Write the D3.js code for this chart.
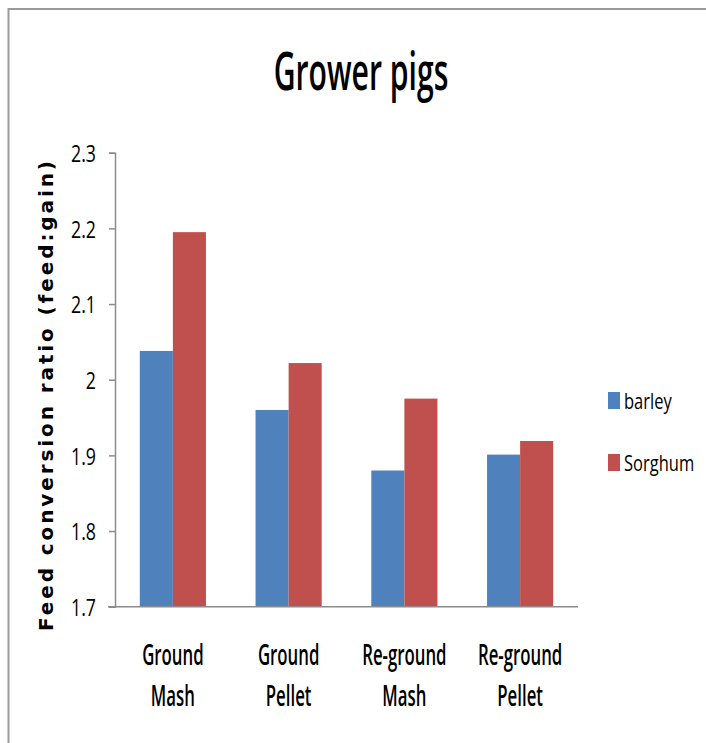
<!DOCTYPE html>
<html>
<head>
<meta charset="utf-8">
<script src="https://cdn.jsdelivr.net/npm/d3@7"></script>
<style>
    body { margin: 0; background: #fff; }
    text { font-family: "Open Sans", sans-serif; fill: #000; }
</style>
</head>
<body>
<script>
// Chart data
var categories = [["Ground", "Mash"], ["Ground", "Pellet"], ["Re-ground", "Mash"], ["Re-ground", "Pellet"]];
var seriesNames = ["barley", "Sorghum"];
var barley = [2.038, 1.960, 1.880, 1.901];
var sorghum = [2.195, 2.022, 1.975, 1.919];
var yTicks = [1.7, 1.8, 1.9, 2.0, 2.1, 2.2, 2.3];

window.onload = function(){

    var w = 706, h = 743;
    var colors = ["#4F81BD", "#C0504D"];

    var svg = d3.select("body")
        .append("svg")
        .attr("width", w)
        .attr("height", h);

    // Outer frame (only top and left edges show)
    svg.append("line")
        .attr("x1", 8).attr("y1", 9).attr("x2", w).attr("y2", 9)
        .style("stroke", "#9a9a9a").style("stroke-width", 2);
    svg.append("line")
        .attr("x1", 8.5).attr("y1", 8).attr("x2", 8.5).attr("y2", h)
        .style("stroke", "#9a9a9a").style("stroke-width", 2);

    // Scales
    var keys = categories.map(function(d){ return d.join(" "); });
    var x0 = d3.scaleBand()
        .domain(keys)
        .range([115, 578])
        .paddingInner(1.5 / 3.5)
        .paddingOuter(0.75 / 3.5);
    var x1 = d3.scaleBand()
        .domain(seriesNames)
        .range([0, x0.bandwidth()]);
    var y = d3.scaleLinear()
        .domain([1.7, 2.3])
        .range([606.7, 152.7]);

    // Bars
    var rows = keys.map(function(k, i){
        return { key: k, values: [barley[i], sorghum[i]] };
    });
    var groups = svg.selectAll(".group")
        .data(rows)
        .enter()
        .append("g")
        .attr("class", "group")
        .attr("transform", function(d){ return "translate(" + x0(d.key) + ",0)"; });
    groups.selectAll("rect")
        .data(function(d){ return d.values; })
        .enter()
        .append("rect")
        .attr("x", function(d, i){ return x1(seriesNames[i]); })
        .attr("y", function(d){ return y(d); })
        .attr("width", x1.bandwidth())
        .attr("height", function(d){ return y(1.7) - y(d); })
        .style("fill", function(d, i){ return colors[i]; });

    // Y axis
    var sx = 0.74;
    var yAxis = d3.axisLeft(y)
        .tickValues(yTicks)
        .tickSize(6)
        .tickPadding(19 / sx - 6)
        .tickFormat(function(d){ return String(+d.toFixed(1)); });
    var axis = svg.append("g")
        .attr("transform", "translate(115,0)")
        .call(yAxis);
    axis.select(".domain").style("stroke", "#8c8c8c").style("stroke-width", 1.5);
    axis.selectAll(".tick line").style("stroke", "#8c8c8c").style("stroke-width", 1.5);
    axis.selectAll(".tick text")
        .attr("transform", "scale(" + sx + ",1)")
        .attr("dy", "0.36em")
        .style("font-family", "Open Sans")
        .style("font-size", "24px")
        .style("fill", "#000");

    // X axis line
    svg.append("line")
        .attr("x1", 108).attr("x2", 578)
        .attr("y1", y(1.7)).attr("y2", y(1.7))
        .style("stroke", "#8c8c8c").style("stroke-width", 1.5);

    // Category labels (two lines each)
    var catLabels = svg.selectAll(".catLabel")
        .data(categories)
        .enter()
        .append("g")
        .attr("class", "catLabel")
        .attr("transform", function(d, i){
            return "translate(" + (x0(keys[i]) + x0.bandwidth() / 2) + ",0) scale(0.6,1)";
        });
    catLabels.selectAll("text")
        .data(function(d){ return d; })
        .enter()
        .append("text")
        .attr("text-anchor", "middle")
        .attr("y", function(d, i){ return i === 0 ? 665 : 706; })
        .style("font-size", "28px")
        .style("font-weight", 600)
        .text(function(d){ return d; });

    // Title
    svg.append("text")
        .attr("transform", "translate(361,90) scale(0.58,1)")
        .attr("text-anchor", "middle")
        .style("font-size", "52px")
        .style("font-weight", 600)
        .text("Grower pigs");

    // Y axis title
    svg.append("text")
        .attr("transform", "translate(53,396) rotate(-90)")
        .attr("text-anchor", "middle")
        .attr("textLength", 470)
        .attr("lengthAdjust", "spacing")
        .style("font-family", "DejaVu Sans")
        .style("font-weight", "bold")
        .style("font-size", "20px")
        .text("Feed conversion ratio (feed:gain)");

    // Legend
    var legend = svg.selectAll(".legend")
        .data(seriesNames)
        .enter()
        .append("g")
        .attr("class", "legend")
        .attr("transform", function(d, i){ return "translate(0," + (i * 62) + ")"; });
    legend.append("rect")
        .attr("x", 608)
        .attr("y", 392)
        .attr("width", 12)
        .attr("height", 17)
        .style("fill", function(d, i){ return colors[i]; });
    legend.append("text")
        .attr("transform", "translate(624,409) scale(0.75,1)")
        .style("font-size", "22px")
        .text(function(d){ return d; });
};
</script>
</body>
</html>
